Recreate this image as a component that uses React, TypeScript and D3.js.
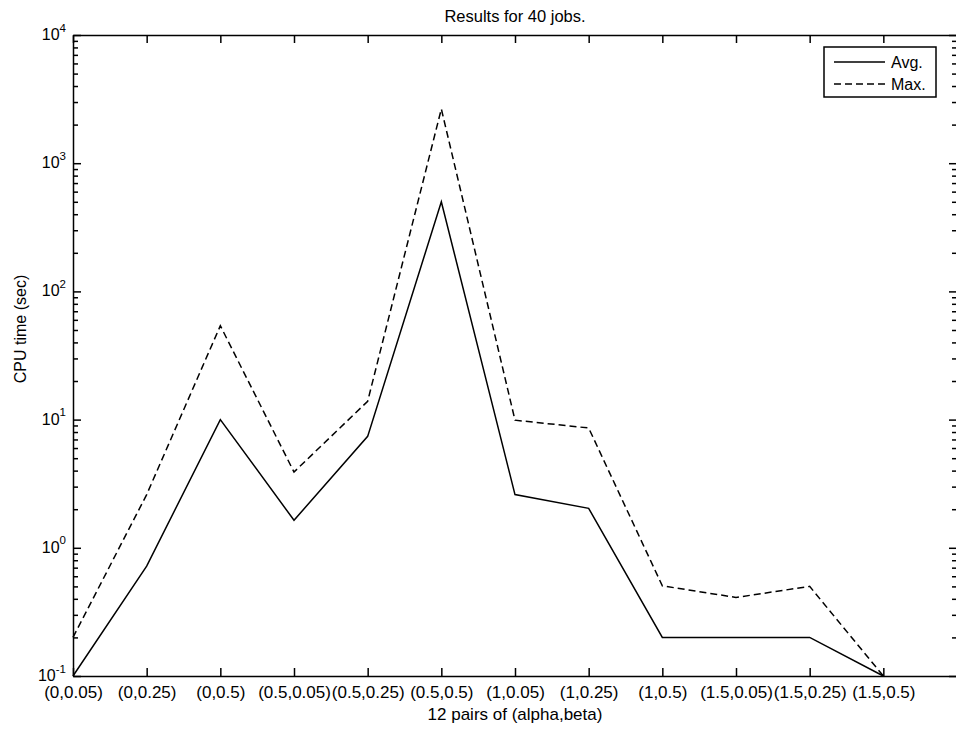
import React, { useEffect, useRef } from 'react';
import * as d3 from 'd3';

const width = 956;
const height = 729;
const margin = { left: 73, right: -1, top: 35, bottom: 53 };

const pairs = [
  '(0,0.05)', '(0,0.25)', '(0,0.5)', '(0.5,0.05)', '(0.5,0.25)', '(0.5,0.5)',
  '(1,0.05)', '(1,0.25)', '(1,0.5)', '(1.5,0.05)', '(1.5,0.25)', '(1.5,0.5)',
];
const avgTime = [0.1, 0.72, 10, 1.64, 7.4, 500, 2.6, 2.03, 0.2, 0.2, 0.2, 0.1];
const maxTime = [0.2, 2.6, 54, 3.9, 13.9, 2650, 9.9, 8.6, 0.505, 0.41, 0.5, 0.1];
const decades = [0.1, 1, 10, 100, 1000, 10000];
const exponents = ['-1', '0', '1', '2', '3', '4'];

const series = [
  { name: 'Avg.', values: avgTime, dash: null },
  { name: 'Max.', values: maxTime, dash: '7,4' },
];

const font = '"Liberation Sans", Arial, Helvetica, sans-serif';

export default function App() {
  const ref = useRef<SVGSVGElement>(null);

  useEffect(() => {
    const svg = d3.select(ref.current);
    svg.selectAll('*').remove();

    const x = d3.scaleLinear()
      .domain([1, pairs.length + 1])
      .range([margin.left, width - margin.right]);

    const y = d3.scaleLog()
      .domain([decades[0], decades[decades.length - 1]])
      .range([height - margin.bottom, margin.top]);

    const idx = pairs.map((_, i) => i + 1);
    // log minor ticks (2..9 of each decade)
    const minor = y.ticks().filter(v => !decades.some(d => Math.abs(v / d - 1) < 1e-6));

    // frame + axes, MATLAB style ticks pointing inward
    const bottom = svg.append('g')
      .attr('transform', `translate(0, ${height - margin.bottom})`)
      .call(d3.axisBottom(x).tickValues(idx).tickSizeInner(-8).tickSizeOuter(0).tickPadding(10)
        .tickFormat((d) => pairs[(d as number) - 1]));
    bottom.selectAll('text').attr('font-size', 17).attr('font-family', font).attr('fill', '#000');

    svg.append('g')
      .attr('transform', `translate(0, ${margin.top})`)
      .call(d3.axisTop(x).tickValues(idx).tickSizeInner(-8).tickSizeOuter(0).tickFormat(() => ''));

    svg.append('g')
      .attr('transform', `translate(${margin.left}, 0)`)
      .call(d3.axisLeft(y).tickValues(decades).tickSizeInner(-8).tickSizeOuter(0).tickFormat(() => ''));
    svg.append('g')
      .attr('transform', `translate(${margin.left}, 0)`)
      .call(d3.axisLeft(y).tickValues(minor).tickSizeInner(-5).tickSizeOuter(0).tickFormat(() => ''))
      .select('.domain').remove();

    svg.append('g')
      .attr('transform', `translate(${width - margin.right}, 0)`)
      .call(d3.axisRight(y).tickValues(decades).tickSizeInner(-8).tickSizeOuter(0).tickFormat(() => ''));
    svg.append('g')
      .attr('transform', `translate(${width - margin.right}, 0)`)
      .call(d3.axisRight(y).tickValues(minor).tickSizeInner(-5).tickSizeOuter(0).tickFormat(() => ''))
      .select('.domain').remove();

    svg.selectAll('.domain, .tick line').attr('stroke', '#000').attr('stroke-width', 1.5);

    // y tick labels 10^n
    decades.forEach((d, i) => {
      const t = svg.append('text')
        .attr('x', 66)
        .attr('y', y(d) + 5)
        .attr('text-anchor', 'end')
        .attr('font-family', font)
        .attr('font-size', 16);
      t.append('tspan').text('10');
      t.append('tspan').attr('font-size', 11.5).attr('dy', -8.5).text(exponents[i]);
    });

    // lines
    const line = d3.line<number>()
      .x((_, i) => x(i + 1))
      .y(v => y(v));

    series.forEach(s => {
      svg.append('path')
        .attr('d', line(s.values))
        .attr('fill', 'none')
        .attr('stroke', '#000')
        .attr('stroke-width', 1.5)
        .attr('stroke-dasharray', s.dash);
    });

    // labels
    svg.append('text')
      .attr('x', (margin.left + width - margin.right) / 2)
      .attr('y', 22)
      .attr('text-anchor', 'middle')
      .attr('font-family', font)
      .attr('font-size', 16.5)
      .text('Results for 40 jobs.');

    svg.append('text')
      .attr('x', (margin.left + width - margin.right) / 2)
      .attr('y', 720)
      .attr('text-anchor', 'middle')
      .attr('font-family', font)
      .attr('font-size', 17)
      .text('12 pairs of (alpha,beta)');

    svg.append('text')
      .attr('transform', `translate(26, 329) rotate(-90)`)
      .attr('text-anchor', 'middle')
      .attr('font-family', font)
      .attr('font-size', 16)
      .text('CPU time (sec)');

    // legend
    const legend = svg.append('g').attr('transform', 'translate(824, 47)');
    legend.append('rect')
      .attr('width', 112)
      .attr('height', 50)
      .attr('fill', '#fff')
      .attr('stroke', '#000')
      .attr('stroke-width', 1.5);
    series.forEach((s, i) => {
      const ly = 15 + i * 22;
      legend.append('line')
        .attr('x1', 10).attr('x2', 61)
        .attr('y1', ly).attr('y2', ly)
        .attr('stroke', '#000')
        .attr('stroke-width', 1.5)
        .attr('stroke-dasharray', s.dash);
      legend.append('text')
        .attr('x', 67)
        .attr('y', ly + 6)
        .attr('font-family', font)
        .attr('font-size', 16)
        .text(s.name);
    });
  }, []);

  return <svg ref={ref} width={width} height={height}
    style={{ position: 'absolute', left: 0, top: 0, background: '#fff' }} />;
}
